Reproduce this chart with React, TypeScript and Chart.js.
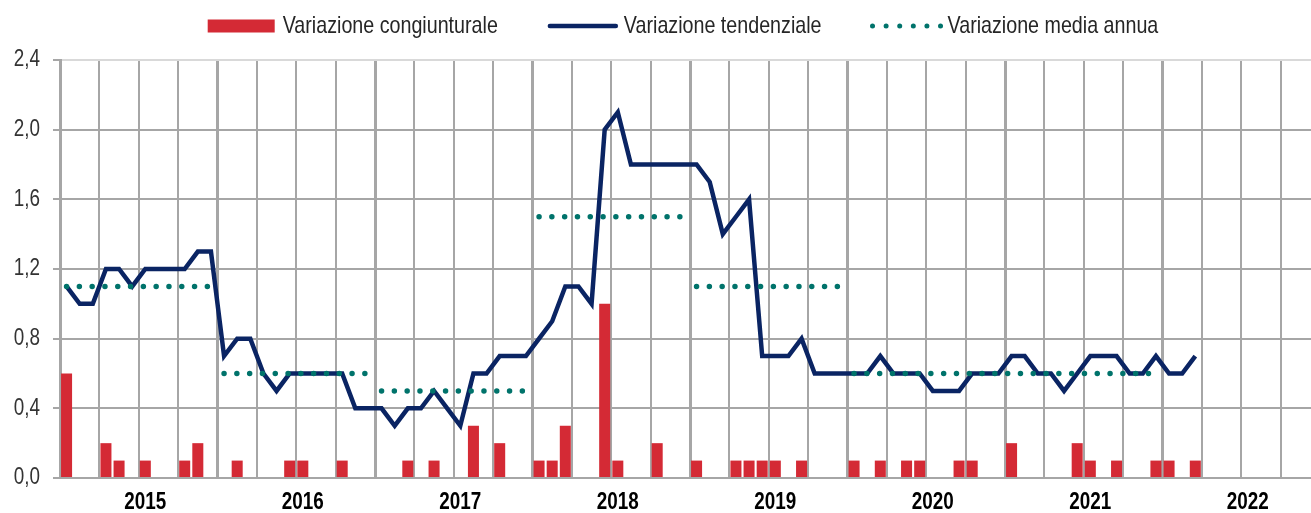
import React, { useEffect, useRef } from 'react';
import { Chart, registerables } from 'chart.js';

Chart.register(...registerables);

// ---------- DATA ----------
const years = ['2015', '2016', '2017', '2018', '2019', '2020', '2021', '2022'];
const monthNames = ['gen', 'feb', 'mar', 'apr', 'mag', 'giu', 'lug', 'ago', 'set', 'ott', 'nov', 'dic'];
const categories: string[] = years.flatMap((y) => monthNames.map((m) => `${m} ${y}`));

// Variazione congiunturale (monthly, %)
const congiunturale2015 = [0.6, 0, 0, 0.2, 0.1, 0, 0.1, 0, 0, 0.1, 0.2, 0];
const congiunturale2016 = [0, 0.1, 0, 0, 0, 0.1, 0.1, 0, 0, 0.1, 0, 0];
const congiunturale2017 = [0, 0, 0.1, 0, 0.1, 0, 0, 0.3, 0, 0.2, 0, 0];
const congiunturale2018 = [0.1, 0.1, 0.3, 0, 0, 1.0, 0.1, 0, 0, 0.2, 0, 0];
const congiunturale2019 = [0.1, 0, 0, 0.1, 0.1, 0.1, 0.1, 0, 0.1, 0, 0, 0];
const congiunturale2020 = [0.1, 0, 0.1, 0, 0.1, 0.1, 0, 0, 0.1, 0.1, 0, 0];
const congiunturale2021 = [0.2, 0, 0, 0, 0, 0.2, 0.1, 0, 0.1, 0, 0, 0.1];
const congiunturale2022 = [0.1, 0, 0.1, null, null, null, null, null, null, null, null, null];

// Variazione tendenziale (monthly, %)
const tendenziale2015 = [1.1, 1.0, 1.0, 1.2, 1.2, 1.1, 1.2, 1.2, 1.2, 1.2, 1.3, 1.3];
const tendenziale2016 = [0.7, 0.8, 0.8, 0.6, 0.5, 0.6, 0.6, 0.6, 0.6, 0.6, 0.4, 0.4];
const tendenziale2017 = [0.4, 0.3, 0.4, 0.4, 0.5, 0.4, 0.3, 0.6, 0.6, 0.7, 0.7, 0.7];
const tendenziale2018 = [0.8, 0.9, 1.1, 1.1, 1.0, 2.0, 2.1, 1.8, 1.8, 1.8, 1.8, 1.8];
const tendenziale2019 = [1.8, 1.7, 1.4, 1.5, 1.6, 0.7, 0.7, 0.7, 0.8, 0.6, 0.6, 0.6];
const tendenziale2020 = [0.6, 0.6, 0.7, 0.6, 0.6, 0.6, 0.5, 0.5, 0.5, 0.6, 0.6, 0.6];
const tendenziale2021 = [0.7, 0.7, 0.6, 0.6, 0.5, 0.6, 0.7, 0.7, 0.7, 0.6, 0.6, 0.7];
const tendenziale2022 = [0.6, 0.6, 0.7, null, null, null, null, null, null, null, null, null];

// Variazione media annua (one value per year, %)
const mediaAnnua = [1.1, 0.6, 0.5, 1.5, 1.1, 0.6, 0.6, null];

const congiunturale = [
  ...congiunturale2015, ...congiunturale2016, ...congiunturale2017, ...congiunturale2018,
  ...congiunturale2019, ...congiunturale2020, ...congiunturale2021, ...congiunturale2022,
];
const tendenziale = [
  ...tendenziale2015, ...tendenziale2016, ...tendenziale2017, ...tendenziale2018,
  ...tendenziale2019, ...tendenziale2020, ...tendenziale2021, ...tendenziale2022,
];
const mediaAnnuaMonthly = mediaAnnua.flatMap((v) => monthNames.map(() => v));

const yTicks = ['0,0', '0,4', '0,8', '1,2', '1,6', '2,0', '2,4'];
const legendLabels = ['Variazione congiunturale', 'Variazione tendenziale', 'Variazione media annua'];

// ---------- STYLE ----------
const FONT = "'Liberation Sans', Arial, sans-serif";
const NARROW = 0.82; // emulate Arial Narrow by horizontal scaling
const RED = '#d42a35';
const NAVY = '#0a2463';
const TEAL = '#00736b';
const GRID = '#a6a6a6';

function narrowText(
  ctx: CanvasRenderingContext2D,
  text: string,
  x: number,
  y: number,
  font: string,
  color: string,
  align: CanvasTextAlign,
  baseline: CanvasTextBaseline,
) {
  ctx.save();
  ctx.font = font;
  ctx.fillStyle = color;
  ctx.textAlign = align;
  ctx.textBaseline = baseline;
  ctx.translate(x, y);
  ctx.scale(NARROW, 1);
  ctx.fillText(text, 0, 0);
  ctx.restore();
}

const textPlugin = {
  id: 'narrowTexts',
  afterDraw(chart: any) {
    const ctx = chart.ctx as CanvasRenderingContext2D;
    const xs = chart.scales.x;
    const ys = chart.scales.y;
    const area = chart.chartArea;

    // Y tick labels
    ys.ticks.forEach((t: any, i: number) => {
      const y = ys.getPixelForValue(t.value);
      narrowText(ctx, yTicks[i], ys.right - 20, y, `23px ${FONT}`, '#333333', 'right', 'middle');
    });

    // Year labels (centred on July of each year)
    years.forEach((yr, k) => {
      const x = xs.getPixelForValue(k * 12 + 6);
      narrowText(ctx, yr, x, area.bottom + 31, `bold 23px ${FONT}`, '#000000', 'center', 'alphabetic');
    });

    // Legend
    ctx.save();
    const lf = `24px ${FONT}`;
    ctx.font = lf;
    const symW = [67, 70, 70];
    const gapSym = [8, 6, 6];
    const gapItem = 50;
    const widths = legendLabels.map((t) => ctx.measureText(t).width * NARROW);
    const total =
      widths.reduce((a, b) => a + b, 0) +
      symW.reduce((a, b) => a + b, 0) +
      gapSym.reduce((a, b) => a + b, 0) +
      2 * gapItem;
    const center = (area.left + area.right) / 2 - 7;
    let x = center - total / 2;
    const cy = 26;
    legendLabels.forEach((label, i) => {
      if (i === 0) {
        ctx.fillStyle = RED;
        ctx.fillRect(x, cy - 6.5, symW[i], 13);
      } else if (i === 1) {
        ctx.strokeStyle = NAVY;
        ctx.lineWidth = 4.5;
        ctx.lineCap = 'round';
        ctx.setLineDash([]);
        ctx.beginPath();
        ctx.moveTo(x + 2, cy);
        ctx.lineTo(x + symW[i] - 2, cy);
        ctx.stroke();
      } else {
        ctx.strokeStyle = TEAL;
        ctx.lineWidth = 5;
        ctx.lineCap = 'round';
        ctx.setLineDash([0, 13.6]);
        ctx.beginPath();
        ctx.moveTo(x + 1, cy);
        ctx.lineTo(x + symW[i] + 1, cy);
        ctx.stroke();
        ctx.setLineDash([]);
      }
      narrowText(ctx, label, x + symW[i] + gapSym[i], 33, lf, '#262626', 'left', 'alphabetic');
      x += symW[i] + gapSym[i] + widths[i] + gapItem;
    });
    ctx.restore();
  },
};

export default function App() {
  const canvasRef = useRef<HTMLCanvasElement | null>(null);

  useEffect(() => {
    if (!canvasRef.current) return;
    Chart.defaults.font.family = FONT;
    const chart = new Chart(canvasRef.current, {
      type: 'bar',
      data: {
        labels: categories,
        datasets: [
          {
            type: 'line',
            label: legendLabels[2],
            data: mediaAnnuaMonthly,
            borderColor: TEAL,
            borderWidth: 5.5,
            borderDash: [0, 12.8],
            borderCapStyle: 'round',
            pointRadius: 0,
            fill: false,
            spanGaps: false,
            order: 0,
            segment: {
              borderColor: (c: any) => (c.p0.parsed.y !== c.p1.parsed.y ? 'transparent' : TEAL),
            },
          } as any,
          {
            type: 'line',
            label: legendLabels[1],
            data: tendenziale,
            borderColor: NAVY,
            borderWidth: 4.5,
            pointRadius: 0,
            fill: false,
            tension: 0,
            order: 1,
          } as any,
          {
            type: 'bar',
            label: legendLabels[0],
            data: congiunturale,
            backgroundColor: RED,
            borderWidth: 0,
            barPercentage: 0.84,
            categoryPercentage: 1,
            order: 2,
          } as any,
        ],
      },
      options: {
        responsive: false,
        animation: false,
        layout: { padding: { top: 60, right: 10, bottom: 0, left: 0 } },
        plugins: { legend: { display: false }, tooltip: { enabled: false } },
        scales: {
          x: {
            type: 'category',
            offset: true,
            grid: {
              offset: true,
              drawTicks: false,
              color: (c: any) => (c.index % 3 === 0 ? GRID : 'transparent'),
              lineWidth: (c: any) => (c.index % 12 === 0 ? 3 : 2),
            },
            border: { display: true, color: GRID, width: 2 },
            ticks: { display: false, autoSkip: false },
            afterFit: (s: any) => {
              s.height = 35;
            },
          },
          y: {
            min: 0,
            max: 2.4,
            ticks: { display: false, stepSize: 0.4 },
            grid: {
              color: (c: any) => (c.tick && c.tick.value > 2.39 ? '#d9d9d9' : GRID),
              lineWidth: 2,
              tickLength: 7,
              tickColor: GRID,
            },
            border: { display: true, color: GRID, width: 3 },
            afterFit: (s: any) => {
              s.width = 60;
            },
          },
        },
      } as any,
      plugins: [textPlugin],
    });
    return () => chart.destroy();
  }, []);

  return (
    <div style={{ position: 'absolute', left: 0, top: 0, width: 1311, height: 513, overflow: 'hidden', background: '#fff' }}>
      <canvas ref={canvasRef} width={1330} height={513} style={{ display: 'block' }} />
    </div>
  );
}
